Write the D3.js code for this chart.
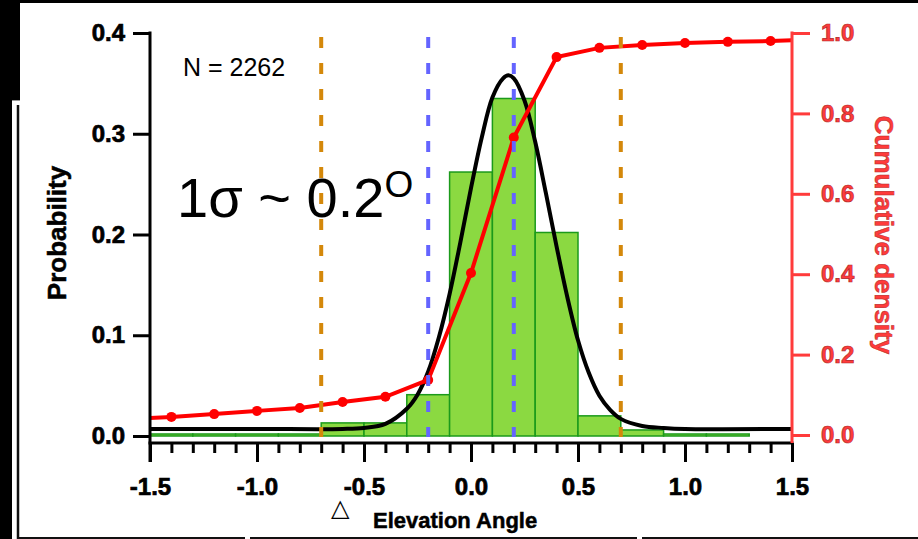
<!DOCTYPE html>
<html>
<head>
<meta charset="utf-8">
<script src="https://cdn.jsdelivr.net/npm/d3@7"></script>
<style>
  html, body { margin: 0; padding: 0; background: #000; }
  svg { display: block; }
  text { font-family: "Liberation Sans", Arial, sans-serif; }
</style>
</head>
<body>
<svg id="chart" width="918" height="539"></svg>
<script>
// ---------- data ----------
const binStarts = [-1.5, -1.3, -1.1, -0.9, -0.7, -0.5, -0.3, -0.1, 0.1, 0.3, 0.5, 0.7, 0.9, 1.1];
const binWidth = 0.2;
const binProb = [0.002, 0.002, 0.002, 0.002, 0.013, 0.013, 0.041, 0.262, 0.335, 0.202, 0.020, 0.006, 0.002, 0.002];

const fitX = [-1.5, -1.0, -0.6, -0.5, -0.4, -0.3, -0.25, -0.2, -0.15, -0.1, -0.05, 0.0, 0.05, 0.1, 0.15, 0.175, 0.2, 0.25, 0.3, 0.35, 0.4, 0.45, 0.5, 0.55, 0.6, 0.65, 0.7, 0.8, 0.9, 1.0, 1.5];
const fitY = [0.007, 0.007, 0.007, 0.008, 0.012, 0.027, 0.041, 0.064, 0.098, 0.141, 0.192, 0.246, 0.296, 0.336, 0.355, 0.358, 0.355, 0.333, 0.292, 0.241, 0.188, 0.138, 0.095, 0.063, 0.040, 0.026, 0.017, 0.010, 0.008, 0.007, 0.007];

const cumX = [-1.5, -1.4, -1.2, -1.0, -0.8, -0.6, -0.4, -0.2, 0.0, 0.2, 0.4, 0.6, 0.8, 1.0, 1.2, 1.4, 1.5];
const cumY = [0.042, 0.045, 0.052, 0.060, 0.067, 0.082, 0.095, 0.137, 0.403, 0.740, 0.940, 0.963, 0.970, 0.975, 0.978, 0.980, 0.982];

const sigmaLines = [-0.2, 0.2];
const outerLines = [-0.7, 0.7];

const xMajorTicks = [-1.5, -1.0, -0.5, 0.0, 0.5, 1.0, 1.5];
const xMinorTicks = [-1.4, -1.3, -1.2, -1.1, -0.9, -0.8, -0.7, -0.6, -0.4, -0.3, -0.2, -0.1, 0.1, 0.2, 0.3, 0.4, 0.6, 0.7, 0.8, 0.9, 1.1, 1.2, 1.3, 1.4];
const leftTicks = [0.0, 0.1, 0.2, 0.3, 0.4];
const rightTicks = [0.0, 0.2, 0.4, 0.6, 0.8, 1.0];

// ---------- setup ----------
const svg = d3.select("#chart");
const RED = "#ff3b3b";
const fmt = d => d.toFixed(1);

// background framing
svg.append("rect").attr("x", 0).attr("y", 0).attr("width", 918).attr("height", 539).attr("fill", "#000");
svg.append("rect").attr("x", 20).attr("y", 3).attr("width", 898).attr("height", 536).attr("fill", "#fff");
svg.append("rect").attr("x", 12).attr("y", 100).attr("width", 8).attr("height", 439).attr("fill", "#fff");
svg.append("line").attr("x1", 12).attr("x2", 20).attr("y1", 100.5).attr("y2", 100.5).attr("stroke", "#999").attr("stroke-width", 1);
svg.append("line").attr("x1", 18).attr("x2", 18).attr("y1", 105).attr("y2", 539).attr("stroke", "#111").attr("stroke-width", 2.5);
[[17, 245], [250, 637], [642, 918]].forEach(s => {
  svg.append("line").attr("x1", s[0]).attr("x2", s[1]).attr("y1", 538).attr("y2", 538).attr("stroke", "#111").attr("stroke-width", 2);
});

const x = d3.scaleLinear().domain([-1.5, 1.5]).range([150, 792]);
const yL = d3.scaleLinear().domain([0, 0.4]).range([436, 33]);
const yR = d3.scaleLinear().domain([0, 1]).range([435, 33]);

// ---------- histogram ----------
svg.append("g").selectAll("rect").data(binStarts).join("rect")
  .attr("x", d => x(d))
  .attr("width", d => x(d + binWidth) - x(d))
  .attr("y", (d, i) => yL(binProb[i]))
  .attr("height", (d, i) => yL(0) - yL(binProb[i]))
  .attr("fill", "#8bd941")
  .attr("stroke", "#1b9a1b")
  .attr("stroke-width", 1.5);

// ---------- fitted curve ----------
const fitLine = d3.line().x(d => x(d[0])).y(d => yL(d[1])).curve(d3.curveCatmullRom.alpha(0.5));
svg.append("path").datum(fitX.map((v, i) => [v, fitY[i]]))
  .attr("d", fitLine).attr("fill", "none").attr("stroke", "#000").attr("stroke-width", 4);

// ---------- cumulative ----------
const cumLine = d3.line().x(d => x(d[0])).y(d => yR(d[1]));
const cumData = cumX.map((v, i) => [v, cumY[i]]);
svg.append("path").datum(cumData)
  .attr("d", cumLine).attr("fill", "none").attr("stroke", "#ff0000").attr("stroke-width", 4);
svg.append("g").selectAll("circle").data(cumData.filter(d => d[0] > -1.5 && d[0] < 1.5)).join("circle")
  .attr("cx", d => x(d[0])).attr("cy", d => yR(d[1])).attr("r", 5).attr("fill", "#ff0000");

// ---------- dashed lines ----------
svg.append("g").selectAll("line").data(outerLines).join("line")
  .attr("x1", d => x(d)).attr("x2", d => x(d))
  .attr("y1", 37).attr("y2", 437)
  .attr("stroke", "#d4880a").attr("stroke-width", 4).attr("stroke-dasharray", "11,15");
svg.append("g").selectAll("line").data(sigmaLines).join("line")
  .attr("x1", d => x(d)).attr("x2", d => x(d))
  .attr("y1", 37).attr("y2", 437)
  .attr("stroke", "#6464ff").attr("stroke-width", 4).attr("stroke-dasharray", "11,15");

// ---------- axes ----------
const tickFont = (sel, color, outline) => sel.selectAll("text")
  .attr("font-size", 24).attr("font-weight", "bold").attr("fill", color)
  .attr("stroke", outline).attr("stroke-width", 0.7)
  .attr("font-family", "'Liberation Sans', Arial, sans-serif");

// left axis
const gL = svg.append("g").attr("transform", "translate(150,0)")
  .call(d3.axisLeft(yL).tickValues(leftTicks).tickSize(17).tickPadding(8).tickFormat(fmt).tickSizeOuter(0));
gL.select(".domain").remove();
gL.selectAll("line").attr("stroke", "#000").attr("stroke-width", 3);
tickFont(gL, "#000", "#000");
svg.append("line").attr("x1", 150).attr("x2", 150).attr("y1", yL(0.4) - 1.5).attr("y2", 462)
  .attr("stroke", "#000").attr("stroke-width", 3);

// bottom axis
const gB = svg.append("g").attr("transform", "translate(0,443)")
  .call(d3.axisBottom(x).tickValues(xMajorTicks).tickSize(19).tickPadding(16).tickFormat(fmt).tickSizeOuter(0));
gB.select(".domain").remove();
gB.selectAll("line").attr("stroke", "#000").attr("stroke-width", 3);
tickFont(gB, "#000", "#000");
const gBm = svg.append("g").attr("transform", "translate(0,443)")
  .call(d3.axisBottom(x).tickValues(xMinorTicks).tickSize(10).tickFormat("").tickSizeOuter(0));
gBm.select(".domain").remove();
gBm.selectAll("line").attr("stroke", "#000").attr("stroke-width", 3);
svg.append("line").attr("x1", 148.5).attr("x2", 793.5).attr("y1", 443).attr("y2", 443)
  .attr("stroke", "#000").attr("stroke-width", 3);

// right axis
const gR = svg.append("g").attr("transform", "translate(792,0)")
  .call(d3.axisRight(yR).tickValues(rightTicks).tickSize(18).tickPadding(11).tickFormat(fmt).tickSizeOuter(0));
gR.select(".domain").remove();
gR.selectAll("line").attr("stroke", RED).attr("stroke-width", 3);
tickFont(gR, RED, "#b02828");
svg.append("line").attr("x1", 792).attr("x2", 792).attr("y1", yR(1) - 1.5).attr("y2", 443)
  .attr("stroke", RED).attr("stroke-width", 3);

// ---------- titles ----------
svg.append("text")
  .attr("transform", "translate(57,233) rotate(-90)")
  .attr("text-anchor", "middle").attr("dominant-baseline", "central")
  .attr("font-size", 26).attr("font-weight", "bold").attr("fill", "#000")
  .attr("stroke", "#000").attr("stroke-width", 0.5)
  .text("Probability");

svg.append("text")
  .attr("transform", "translate(884,235) rotate(90)")
  .attr("text-anchor", "middle").attr("dominant-baseline", "central")
  .attr("font-size", 26).attr("font-weight", "bold").attr("fill", RED)
  .attr("stroke", "#b02828").attr("stroke-width", 0.5)
  .text("Cumulative density");

svg.append("text").attr("x", 331).attr("y", 516)
  .attr("font-size", 24).attr("fill", "#000").text("△");
svg.append("text").attr("x", 373).attr("y", 528)
  .attr("font-size", 22).attr("font-weight", "bold").attr("fill", "#000")
  .attr("stroke", "#000").attr("stroke-width", 0.5).text("Elevation Angle");

svg.append("text").attr("x", 183).attr("y", 76)
  .attr("font-size", 25).attr("fill", "#000").text("N = 2262");

const big = svg.append("text").attr("x", 177).attr("y", 217)
  .attr("font-size", 56).attr("fill", "#000")
  .attr("font-family", "'Open Sans', 'Liberation Sans', sans-serif");
big.append("tspan").text("1σ ~ 0.2");
big.append("tspan").attr("font-size", 37).attr("dy", -20).text("O");
</script>
</body>
</html>
